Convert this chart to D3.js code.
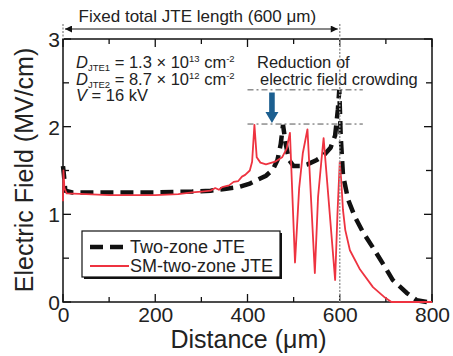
<!DOCTYPE html>
<html>
<head>
<meta charset="utf-8">
<script src="https://cdn.jsdelivr.net/npm/d3@7"></script>
<style>
  body { margin: 0; background: #fff; }
  text { font-family: "Liberation Sans", Arial, sans-serif; fill: #222; }
</style>
</head>
<body>
<div class="chart"></div>
<script>
// data
const xTickValues = [0, 200, 400, 600, 800];
const yTickValues = [0, 1, 2, 3];

const twoZoneX = [0, 2, 5, 20, 100, 200, 280, 320, 350, 380, 405, 420, 440, 455, 465, 472, 477, 483, 490, 500, 515, 530, 550, 565, 580, 590, 596, 599, 602, 607, 618, 633, 650, 672, 698, 715, 746, 767, 790, 800];
const twoZoneY = [1.55, 1.45, 1.27, 1.25, 1.25, 1.25, 1.26, 1.27, 1.29, 1.31, 1.35, 1.39, 1.44, 1.51, 1.62, 1.8, 2.02, 1.8, 1.62, 1.55, 1.55, 1.57, 1.62, 1.67, 1.76, 1.9, 2.2, 2.42, 1.9, 1.45, 1.17, 0.97, 0.8, 0.62, 0.4, 0.25, 0.1, 0.02, 0, 0];

const smX = [0, 1, 3, 8, 50, 100, 200, 250, 280, 300, 320, 330, 338, 345, 360, 370, 380, 388, 395, 405, 410, 415, 420, 428, 440, 460, 475, 485, 492, 503, 512, 520, 530, 546, 553, 560, 565, 590, 595, 600, 603, 607, 612, 622, 644, 672, 698, 712, 800];
const smY = [1.15, 1.5, 1.3, 1.24, 1.23, 1.22, 1.22, 1.23, 1.25, 1.26, 1.27, 1.3, 1.28, 1.31, 1.33, 1.37, 1.38, 1.43, 1.45, 1.5, 1.6, 2.02, 1.65, 1.59, 1.57, 1.6, 1.65, 1.75, 1.93, 0.45, 1.3, 1.7, 1.97, 0.33, 1.2, 1.6, 1.87, 0.25, 1.0, 1.6, 1.4, 1.05, 0.82, 0.59, 0.37, 0.17, 0.05, 0, 0];

const seriesNames = ['Two-zone JTE', 'SM-two-zone JTE'];

const margin = { top: 39, right: 21, bottom: 54, left: 63 };
const width = 453 - margin.left - margin.right;
const height = 356 - margin.top - margin.bottom;

const root = d3.select('.chart')
  .append('svg')
  .attr('width', 453)
  .attr('height', 356);

const svg = root.append('g')
  .attr('transform', `translate(${margin.left}, ${margin.top})`);

const xScale = d3.scaleLinear().domain([0, 800]).range([0, width]);
const yScale = d3.scaleLinear().domain([0, 3]).range([height, 0]);

// dotted guides at 0 and 600 um
root.append('line')
  .attr('x1', margin.left + xScale(0)).attr('x2', margin.left + xScale(0))
  .attr('y1', 24).attr('y2', margin.top)
  .style('stroke', '#999').style('stroke-width', 1.5).style('stroke-dasharray', '2,1.5');
root.append('line')
  .attr('x1', margin.left + xScale(600)).attr('x2', margin.left + xScale(600))
  .attr('y1', 24).attr('y2', margin.top + height)
  .style('stroke', '#999').style('stroke-width', 1.5).style('stroke-dasharray', '2,1.5');

// double arrow on top
const defs = root.append('defs');
defs.append('marker')
  .attr('id', 'head')
  .attr('viewBox', '0 0 10 10')
  .attr('refX', 10).attr('refY', 5)
  .attr('markerWidth', 9).attr('markerHeight', 7)
  .attr('markerUnits', 'userSpaceOnUse')
  .attr('orient', 'auto-start-reverse')
  .append('path').attr('d', 'M0,0 L10,5 L0,10 z').style('fill', '#111');

root.append('line')
  .attr('x1', margin.left + xScale(0) + 2).attr('x2', margin.left + xScale(600) - 2)
  .attr('y1', 29).attr('y2', 29)
  .style('stroke', '#111').style('stroke-width', 1)
  .attr('marker-start', 'url(#head)').attr('marker-end', 'url(#head)');

root.append('text')
  .attr('x', margin.left + xScale(300) - 4).attr('y', 22)
  .attr('text-anchor', 'middle')
  .style('font-size', '17px')
  .text('Fixed total JTE length (600 μm)');

// plot frame
svg.append('rect')
  .attr('width', width).attr('height', height)
  .style('fill', 'none').style('stroke', '#111').style('stroke-width', 1.5);

// inward ticks, all four sides
const xMinor = d3.range(0, 801, 100);
const yMinor = d3.range(0, 3.01, 0.5);
const tickLen = d => (d % 200 === 0 ? 8 : 5);
const ytickLen = d => (d % 1 === 0 ? 8 : 6);

svg.selectAll('.xt').data(xMinor).join('line')
  .attr('x1', d => xScale(d)).attr('x2', d => xScale(d))
  .attr('y1', height).attr('y2', d => height - tickLen(d))
  .style('stroke', '#111').style('stroke-width', 1.3);
svg.selectAll('.xtt').data(xMinor).join('line')
  .attr('x1', d => xScale(d)).attr('x2', d => xScale(d))
  .attr('y1', 0).attr('y2', d => tickLen(d))
  .style('stroke', '#111').style('stroke-width', 1.3);
svg.selectAll('.yt').data(yMinor).join('line')
  .attr('x1', 0).attr('x2', d => ytickLen(d))
  .attr('y1', d => yScale(d)).attr('y2', d => yScale(d))
  .style('stroke', '#111').style('stroke-width', 1.3);
svg.selectAll('.ytr').data(yMinor).join('line')
  .attr('x1', width).attr('x2', d => width - ytickLen(d))
  .attr('y1', d => yScale(d)).attr('y2', d => yScale(d))
  .style('stroke', '#111').style('stroke-width', 1.3);

// tick labels through d3 axes, tick lines hidden
const xAxis = d3.axisBottom(xScale).tickValues(xTickValues).tickSize(0).tickPadding(5)
  .tickFormat(d3.format('d'));
const yAxis = d3.axisLeft(yScale).tickValues(yTickValues).tickSize(0).tickPadding(3)
  .tickFormat(d3.format('d'));

const gx = svg.append('g')
  .attr('transform', `translate(0, ${height})`)
  .call(xAxis);
const gy = svg.append('g').call(yAxis);
[gx, gy].forEach(g => {
  g.select('.domain').remove();
  g.selectAll('text')
    .style('font-family', '"Liberation Sans", Arial, sans-serif')
    .style('font-size', '21px')
    .style('fill', '#222');
});
gx.selectAll('text').attr('dy', '0.7em');
gy.selectAll('text').attr('dy', '0.36em');

// axis titles
root.append('text')
  .attr('x', margin.left + width / 2 + 1).attr('y', 348)
  .attr('text-anchor', 'middle')
  .style('font-size', '25px')
  .text('Distance (μm)');
root.append('text')
  .attr('transform', `translate(33, ${margin.top + 131}) rotate(-90)`)
  .attr('text-anchor', 'middle')
  .style('font-size', '25px')
  .text('Electric Field (MV/cm)');

// reference levels (dash-dot)
const levelX = [400, 650];
const levelY = [2.42, 2.03];
svg.selectAll('.lvl').data(levelY).join('line')
  .attr('x1', xScale(levelX[0])).attr('x2', xScale(levelX[1]))
  .attr('y1', d => yScale(d)).attr('y2', d => yScale(d))
  .style('stroke', '#555').style('stroke-width', 1)
  .style('stroke-dasharray', '6,3,2,3');

// blue arrow
const ax = xScale(453);
const ay0 = yScale(2.4) + 1;
const ay1 = yScale(2.03) - 1;
svg.append('path')
  .attr('d', `M${ax - 2.8},${ay0} L${ax + 2.8},${ay0} L${ax + 2.8},${ay1 - 11} L${ax + 6.5},${ay1 - 11} L${ax},${ay1} L${ax - 6.5},${ay1 - 11} L${ax - 2.8},${ay1 - 11} Z`)
  .style('fill', '#1c5f90');

// curves
const line = d3.line()
  .x(d => xScale(d[0]))
  .y(d => yScale(d[1]));

const twoZone = twoZoneX.map((x, i) => [x, twoZoneY[i]]);
const sm = smX.map((x, i) => [x, smY[i]]);

svg.append('path')
  .datum(twoZone)
  .attr('d', line)
  .style('fill', 'none')
  .style('stroke', '#111')
  .style('stroke-width', 4.5)
  .style('stroke-dasharray', '13,7');

svg.append('path')
  .datum(sm)
  .attr('d', line)
  .style('fill', 'none')
  .style('stroke', '#ee3340')
  .style('stroke-width', 1.8)
  .style('stroke-linejoin', 'round');

// annotations
const ann = svg.append('g').style('font-size', '16.5px');
function dLine(y, sub, mant, exp) {
  const t = ann.append('text').attr('x', 13).attr('y', y);
  t.append('tspan').style('font-style', 'italic').text('D');
  t.append('tspan').attr('dy', 3).style('font-size', '9.5px').text(sub);
  t.append('tspan').attr('dy', -3).text(` = ${mant} × 10`);
  t.append('tspan').attr('dy', -6).style('font-size', '9.5px').text(exp);
  t.append('tspan').attr('dy', 6).text(' cm');
  t.append('tspan').attr('dy', -6).style('font-size', '9.5px').text('-2');
}
dLine(29, 'JTE1', '1.3', '13');
dLine(46, 'JTE2', '8.7', '12');
const v = ann.append('text').attr('x', 13).attr('y', 62);
v.append('tspan').style('font-style', 'italic').text('V');
v.append('tspan').text(' = 16 kV');

ann.append('text').attr('x', 194).attr('y', 29).text('Reduction of');
ann.append('text').attr('x', 197).attr('y', 46).text('electric field crowding');

// legend
const lg = svg.append('g').attr('transform', `translate(${82 - margin.left}, ${231 - margin.top})`);
lg.append('rect').attr('x', 2).attr('y', 2).attr('width', 198).attr('height', 46).style('fill', '#111');
lg.append('rect').attr('width', 198).attr('height', 46).style('fill', '#fff').style('stroke', '#111').style('stroke-width', 1.2);
const legendStyles = [
  { stroke: '#111', w: 4.5, dash: '13,7' },
  { stroke: '#ee3340', w: 1.8, dash: null }
];
seriesNames.forEach((name, i) => {
  const y = 16 + i * 19;
  lg.append('line')
    .attr('x1', 8).attr('x2', 47).attr('y1', y).attr('y2', y)
    .style('stroke', legendStyles[i].stroke)
    .style('stroke-width', legendStyles[i].w)
    .style('stroke-dasharray', legendStyles[i].dash);
  lg.append('text').attr('x', 48).attr('y', y + 6).style('font-size', '18px').text(name);
});
</script>
</body>
</html>
